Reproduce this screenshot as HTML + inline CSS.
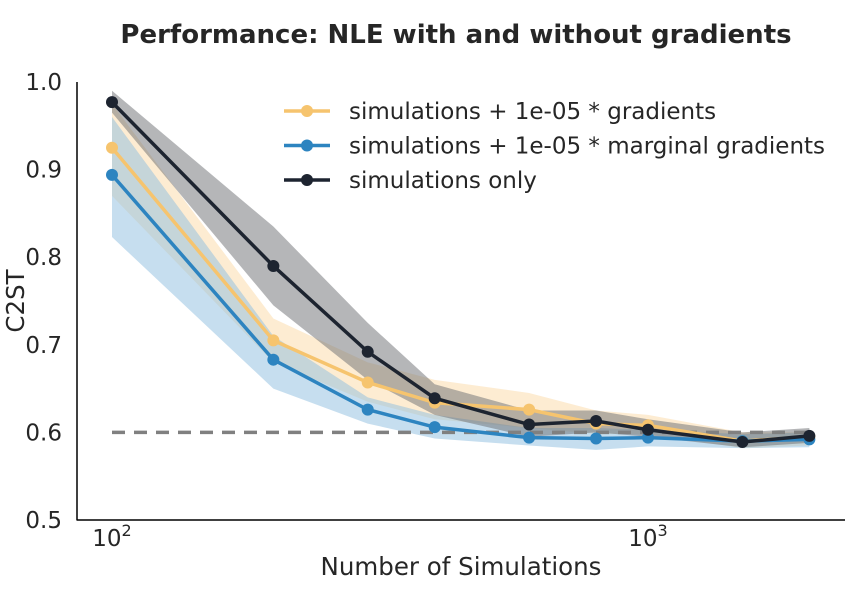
<!DOCTYPE html>
<html><head><meta charset="utf-8"><style>
html,body{margin:0;padding:0;background:#fff;}
svg text{font-family:"DejaVu Sans","Liberation Sans",sans-serif;fill:#262626;}
</style></head><body>
<svg id="chart" width="855" height="595" xmlns="http://www.w3.org/2000/svg">
<text x="456" y="43" text-anchor="middle" font-size="26" font-weight="bold">Performance: NLE with and without gradients</text>
<g id="bands"></g><g id="lines"></g>
<line x1="77" y1="82" x2="77" y2="520.5" stroke="#000" stroke-width="1.5"/>
<line x1="77" y1="520" x2="845" y2="520" stroke="#000" stroke-width="1.5"/>
<g id="yticks"></g>
<text x="112" y="546" text-anchor="middle" font-size="23">10<tspan dy="-10" font-size="16">2</tspan></text>
<text x="648" y="546" text-anchor="middle" font-size="23">10<tspan dy="-10" font-size="16">3</tspan></text>
<text x="461" y="575" text-anchor="middle" font-size="24.5">Number of Simulations</text>
<text transform="translate(24,301) rotate(-90)" text-anchor="middle" font-size="24.5">C2ST</text>
<g id="legend"></g>
</svg>
<script>
const sims=[100,200,300,400,600,800,1000,1500,2000];
const yTicks=[0.5,0.6,0.7,0.8,0.9,1.0];
const orangeMean=[0.925,0.705,0.657,0.634,0.626,0.610,0.608,0.590,0.595];
const orangeUpper=[0.975,0.730,0.680,0.660,0.645,0.625,0.620,0.600,0.600];
const orangeLower=[0.870,0.680,0.635,0.615,0.605,0.598,0.598,0.582,0.585];
const blueMean=[0.894,0.683,0.626,0.606,0.594,0.593,0.594,0.590,0.592];
const blueUpper=[0.960,0.710,0.640,0.620,0.605,0.605,0.603,0.598,0.600];
const blueLower=[0.823,0.650,0.610,0.593,0.585,0.580,0.584,0.582,0.583];
const blackMean=[0.977,0.790,0.692,0.639,0.609,0.613,0.603,0.589,0.596];
const blackUpper=[0.990,0.835,0.725,0.655,0.625,0.625,0.615,0.600,0.605];
const blackLower=[0.965,0.745,0.660,0.620,0.595,0.600,0.595,0.583,0.588];
const referenceLevel=0.6;
const legendLabels=["simulations + 1e-05 * gradients","simulations + 1e-05 * marginal gradients","simulations only"];

const NS="http://www.w3.org/2000/svg";
const xs=v=>112+536*Math.log10(v/100);
const ys=v=>520-(v-0.5)*876;
function mk(tag,attrs,parent){const e=document.createElementNS(NS,tag);for(const k in attrs)e.setAttribute(k,attrs[k]);parent.appendChild(e);return e;}
const bands=document.getElementById('bands'),lines=document.getElementById('lines');
yTicks.forEach(t=>{const e=mk('text',{x:62,y:ys(t)+8,'text-anchor':'end','font-size':23},document.getElementById('yticks'));


e.textContent=t.toFixed(1);});
const series=[
 {name:'gradients',c:'#f6c46e',fill:'#fbd9a6',m:orangeMean,u:orangeUpper,l:orangeLower},
 {name:'marginal-gradients',c:'#2d84c0',fill:'#8dbde0',m:blueMean,u:blueUpper,l:blueLower},
 {name:'simulations-only',c:'#1d2430',fill:'#6b6e72',m:blackMean,u:blackUpper,l:blackLower}];
series.forEach(s=>{
 const pts=sims.map((x,i)=>xs(x)+','+ys(s.u[i])).concat(sims.map((x,i)=>xs(x)+','+ys(s.l[i])).reverse());
 const p=mk('polygon',{points:pts.join(' '),fill:s.fill,'fill-opacity':0.5},bands);
 
 
});
const dl=mk('line',{x1:xs(100),x2:xs(2000),y1:ys(referenceLevel),y2:ys(referenceLevel),stroke:'#808080','stroke-width':3.5,'stroke-dasharray':'13,9'},lines);


series.forEach(s=>{
 const pl=mk('polyline',{points:sims.map((x,i)=>xs(x)+','+ys(s.m[i])).join(' '),fill:'none',stroke:s.c,'stroke-width':3.5},lines);
 
 
 sims.forEach((x,i)=>{const c=mk('circle',{cx:xs(x),cy:ys(s.m[i]),r:6,fill:s.c},lines);
 
 });
});
const lg=document.getElementById('legend');
legendLabels.forEach((t,i)=>{const y=111+i*34.5;const s=series[i];
 const g=mk('g',{},lg);
 
 
 mk('line',{x1:284,x2:330,y1:y,y2:y,stroke:s.c,'stroke-width':3.5},g);
 mk('circle',{cx:307,cy:y,r:6,fill:s.c},g);
 const tx=mk('text',{x:349,y:y+8,'font-size':23},g);tx.textContent=t;});
</script>
</body></html>
